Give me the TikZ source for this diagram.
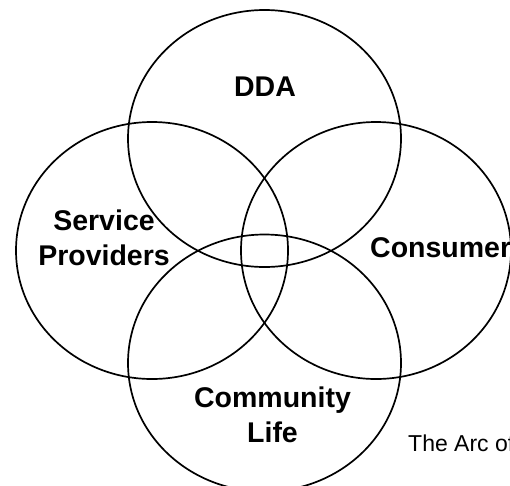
\documentclass[tikz,border=0pt]{standalone}
\usepackage{fontspec}
\setmainfont{Liberation Sans}
\begin{document}
\begin{tikzpicture}[x=1pt,y=-1pt,
  ring/.style={draw=black,line width=1.7pt},
  big/.style={font=\bfseries\fontsize{28.5}{34}\selectfont,inner sep=0pt,anchor=base},
  note/.style={font=\fontsize{23}{28}\selectfont,inner sep=0pt,anchor=base west}]
\useasboundingbox (0,0) rectangle (510,485);
\clip (0,0) rectangle (510,485);
\draw[ring] (264.5,138.5) ellipse [x radius=136.5,y radius=128.5];
\draw[ring] (152,250.5) ellipse [x radius=136,y radius=128.5];
\draw[ring] (376,250.5) ellipse [x radius=135,y radius=128.5];
\draw[ring] (264.5,363) ellipse [x radius=136.5,y radius=128.5];
\node[big] (dda) at (265,96) {DDA};
\node[big] (sp1) at (104,230) {Service};
\node[big] (sp2) at (104,265) {Providers};
\node[big,anchor=base west] (con) at (370,257) {Consumer};
\node[big] (cl1) at (272.5,407) {Community};
\node[big] (cl2) at (272.5,442) {Life};
\node[note] (arc) at (408,451) {The Arc of};
\end{tikzpicture}
\end{document}
